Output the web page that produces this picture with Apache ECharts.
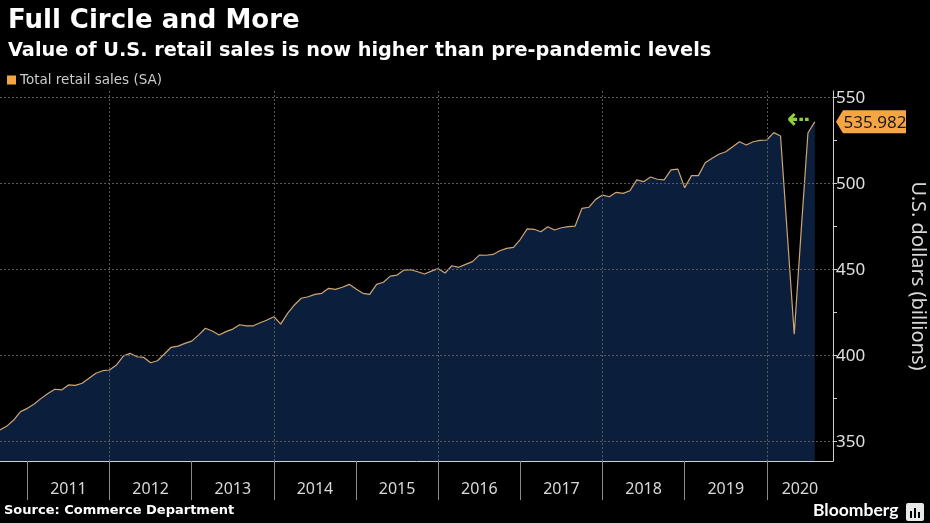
<!DOCTYPE html>
<html>
<head>
<meta charset="utf-8">
<script src="https://cdn.jsdelivr.net/npm/echarts@6/dist/echarts.min.js"></script>
<style>
html,body{margin:0;padding:0;background:#000;}
#chart{width:930px;height:523px;}
</style>
</head>
<body>
<div id="chart"></div>
<script>
// ---- data ----
var seriesName = 'Total retail sales (SA)';
var startYear = 2010, startMonth = 8; // first observation: Aug 2010 (monthly, SA, $bn)
var retailSales = [
  356.8, 359.1, 362.6, 367.5, 369.4,
  371.9, 375.2, 378.1, 380.5, 380.1, 383.0, 382.8, 384.0, 386.9, 389.8, 391.3, 391.7,
  394.6, 399.8, 401.4, 399.4, 399.0, 395.9, 397.1, 401.0, 404.9, 405.6, 407.2, 408.5,
  412.0, 416.0, 414.4, 412.0, 414.0, 415.5, 418.0, 417.4, 417.4, 419.2, 420.8, 422.7,
  418.4, 424.6, 429.5, 433.4, 434.3, 435.7, 436.3, 439.2, 438.6, 439.8, 441.5, 438.8,
  436.3, 435.7, 441.5, 442.7, 446.3, 446.9, 449.8, 450.0, 448.8, 447.5, 449.2, 450.6,
  448.1, 452.3, 451.4, 453.1, 454.7, 458.5, 458.4, 458.9, 461.0, 462.4, 463.0, 467.7,
  473.7, 473.5, 472.1, 475.0, 473.1, 474.4, 475.0, 475.4, 485.7, 486.3, 490.9, 493.4,
  492.4, 495.0, 494.4, 495.9, 502.2, 501.2, 503.9, 502.6, 502.2, 508.0, 508.5, 497.7,
  504.7, 504.7, 512.2, 514.8, 517.1, 518.6, 521.5, 524.4, 522.5, 524.4, 525.2, 525.4,
  529.7, 527.7, 470.0, 412.5, 472.0, 529.5, 535.982
];
var yearLabels = ['2011','2012','2013','2014','2015','2016','2017','2018','2019','2020'];
var yTickLabels = [350, 400, 450, 500, 550];
var yMinorTicks = [375, 425, 475, 525];
var gridYears = ['2012','2014','2016','2018','2020'];

// ---- build ----
// x = months since Jan 2010; a month's observation sits at its month end
function monthEndPos(y, m) { return (y - 2010) * 12 + m; }
var points = retailSales.map(function (v, i) {
  var mIdx = (startMonth - 1) + i;
  var y = startYear + Math.floor(mIdx / 12);
  var m = (mIdx % 12) + 1;
  return [monthEndPos(y, m), v];
});
var xMin = points[0][0];
var xMax = 129.66;
var lastPoint = points[points.length - 1];

var yearStart = function (yr) { return (parseInt(yr, 10) - 2010) * 12; };
var labelPos = yearLabels.map(function (yr) {
  var s = yearStart(yr), e = Math.min(s + 12, xMax);
  return (s + e) / 2;
});
var tickPos = yearLabels.map(yearStart);
var labelMap = {};
labelPos.forEach(function (p, i) { labelMap[p.toFixed(3)] = yearLabels[i]; });

var gridLines = yTickLabels.map(function (v) { return { yAxis: v }; })
  .concat(gridYears.map(function (yr) { return { xAxis: yearStart(yr) }; }));

var chart = echarts.init(document.getElementById('chart'));
chart.setOption({
  backgroundColor: '#000',
  animation: false,
  title: [
    { text: 'Full Circle and More', left: 3, top: 3,
      textStyle: { color: '#fff', fontSize: 26, fontWeight: 'bold', fontFamily: 'DejaVu Sans' } },
    { text: 'Value of U.S. retail sales is now higher than pre-pandemic levels', left: 3, top: 36,
      textStyle: { color: '#fff', fontSize: 19.3, fontWeight: 'bold', fontFamily: 'DejaVu Sans' } }
  ],
  legend: {
    data: [seriesName], left: 2, top: 68, icon: 'rect', itemWidth: 9, itemHeight: 9, itemGap: 4,
    textStyle: { color: '#ccc', fontSize: 13.5, fontFamily: 'DejaVu Sans', padding: [0,0,0,-1] }
  },
  grid: { left: 0, right: 97, top: 91, bottom: 62, outerBoundsMode: 'none', containLabel: false },
  xAxis: {
    type: 'value', min: xMin, max: xMax,
    axisLine: { show: true, lineStyle: { color: '#cfcfcf', width: 1 } },
    axisTick: { show: true, customValues: tickPos, length: 39, lineStyle: { color: '#8a8a8a' } },
    axisLabel: {
      customValues: labelPos, color: '#d8d8d8', fontSize: 16, fontFamily: 'Noto Sans', margin: 20,
      formatter: function (v) { return labelMap[Number(v).toFixed(3)] || ''; }
    },
    splitLine: { show: false }
  },
  yAxis: {
    type: 'value', position: 'right', min: 338.8, max: 553.9,
    axisLine: { show: true, lineStyle: { color: '#cfcfcf', width: 1 } },
    axisTick: { show: true, customValues: yTickLabels.concat(yMinorTicks), length: 4, lineStyle: { color: '#cfcfcf' } },
    axisLabel: { customValues: yTickLabels, color: '#e0e0e0', fontSize: 17, fontFamily: 'Noto Sans', margin: 3 },
    splitLine: { show: false },
    name: 'U.S. dollars (billions)', nameLocation: 'middle', nameRotate: -90, nameGap: 75,
    nameTextStyle: { color: '#d8d8d8', fontSize: 20, fontFamily: 'Noto Sans' }
  },
  series: [{
    name: seriesName, type: 'line', data: points, showSymbol: false, symbol: 'none',
    itemStyle: { color: '#f6a544' },
    lineStyle: { color: '#cfa670', width: 1.2 },
    areaStyle: { color: '#0b1f3c', opacity: 1 },
    markLine: {
      silent: true, symbol: ['none', 'none'], label: { show: false },
      lineStyle: { color: '#5a5a5a', type: [2, 2], width: 1 },
      data: gridLines
    },
    markPoint: {
      silent: true,
      data: [
        { coord: [xMax, lastPoint[1]], value: lastPoint[1],
          symbol: 'path://M0,11 L7,0 L70,0 L70,22 L7,22 Z', symbolSize: [70, 23], symbolOffset: [38, 0],
          symbolKeepAspect: false,
          itemStyle: { color: '#f6a544' },
          label: { show: true, position: 'inside', offset: [4, 1], color: '#1a1a1a', fontSize: 17,
            fontFamily: 'Noto Sans', formatter: function (p) { return String(p.value); } } },
        { coord: lastPoint, symbol: 'circle', symbolSize: 0.1,
          label: { show: true, position: 'inside', offset: [-16, -1], formatter: '\u21e0',
            color: '#8fd03a', fontSize: 28, fontWeight: 'bold', fontFamily: 'DejaVu Sans' } }
      ]
    }
  }],
  graphic: [
    { type: 'text', left: 4, top: 504,
      style: { text: 'Source: Commerce Department', fill: '#fff', font: 'bold 13px "DejaVu Sans"' } },
    { type: 'text', left: 813, top: 501,
      style: { text: 'Bloomberg', fill: '#fff', font: 'bold 17.5px "Lato"' } },
    { type: 'rect', left: 906, top: 503, shape: { width: 18, height: 18, r: 2 }, style: { fill: '#e8e8e8' } },
    { type: 'rect', left: 910, top: 511, shape: { width: 2, height: 7 }, style: { fill: '#000' } },
    { type: 'rect', left: 914, top: 508, shape: { width: 2, height: 10 }, style: { fill: '#000' } },
    { type: 'rect', left: 918, top: 512, shape: { width: 2, height: 6 }, style: { fill: '#000' } }
  ]
});
</script>
</body>
</html>
